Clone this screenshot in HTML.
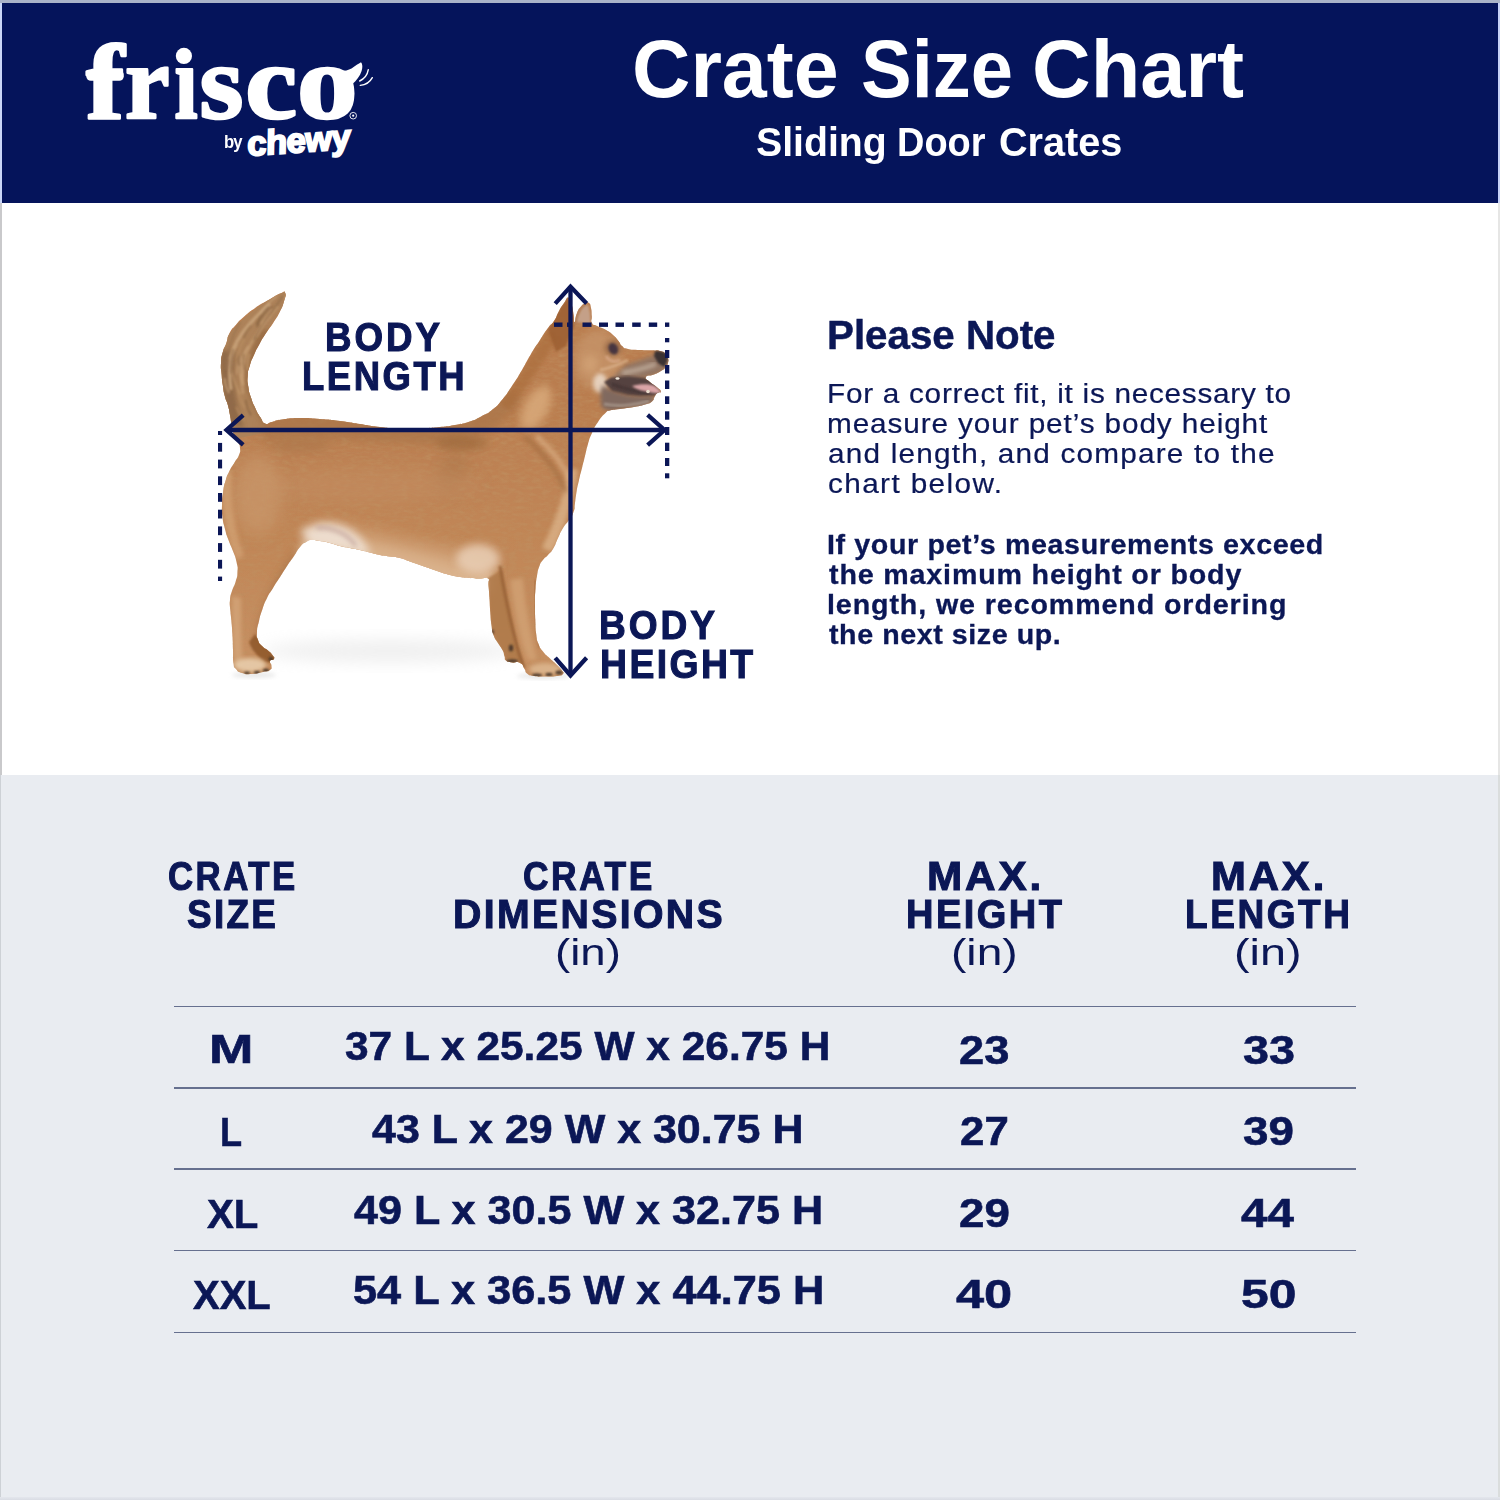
<!DOCTYPE html>
<html><head><meta charset="utf-8">
<title>Crate Size Chart</title>
<style>
html,body{margin:0;padding:0;}
body{width:1500px;height:1500px;position:relative;overflow:hidden;background:#fff;font-family:"Liberation Sans",sans-serif;color:#0b1756;}
#hdr{position:absolute;left:0;top:0;width:1500px;height:202.6px;background:#05145b;}
#tbl{position:absolute;left:0;top:775px;width:1500px;height:725px;background:#e9ecf1;}
.ln{position:absolute;left:174px;width:1182px;height:1.4px;background:#66708f;}
.t{position:absolute;white-space:nowrap;line-height:1;transform-origin:0 0;}
svg{position:absolute;left:0;top:0;}
</style></head>
<body>
<div id="hdr"></div>
<div id="tbl"></div>
<div class="ln" style="top:1005.6px"></div>
<div class="ln" style="top:1087.4px"></div>
<div class="ln" style="top:1168.4px"></div>
<div class="ln" style="top:1249.9px"></div>
<div class="ln" style="top:1331.6px"></div>
<svg width="1500" height="1500" viewBox="0 0 1500 1500" style="z-index:1">
<defs>
<linearGradient id="gBody" gradientUnits="userSpaceOnUse" x1="0" y1="400" x2="0" y2="640">
<stop offset="0" stop-color="#ba7d4f"/><stop offset="0.3" stop-color="#be8253"/><stop offset="0.7" stop-color="#c28859"/><stop offset="1" stop-color="#c68e60"/>
</linearGradient>
<filter id="b2" x="-20%" y="-20%" width="140%" height="140%"><feGaussianBlur stdDeviation="2"/></filter>
<filter id="b4" x="-30%" y="-30%" width="160%" height="160%"><feGaussianBlur stdDeviation="4"/></filter>
<filter id="b8" x="-50%" y="-50%" width="200%" height="200%"><feGaussianBlur stdDeviation="8"/></filter>
<filter id="b1" x="-20%" y="-20%" width="140%" height="140%"><feGaussianBlur stdDeviation="0.9"/></filter>
<filter id="fur" x="0" y="0" width="100%" height="100%"><feTurbulence type="fractalNoise" baseFrequency="0.12 0.3" numOctaves="3" seed="7" result="n"/><feColorMatrix in="n" type="matrix" values="0 0 0 0 0.52  0 0 0 0 0.28  0 0 0 0 0.12  1.3 1.3 0 0 -1.05"/></filter>
<filter id="edge" x="-5%" y="-5%" width="110%" height="110%"><feGaussianBlur stdDeviation="0.6"/></filter>
<clipPath id="cpDog"><path d="M285.1 292.8C286.4 295.4 285.8 294.9 284.0 301.3C282.2 307.7 283.3 304.9 279.7 312.0C276.1 319.1 277.9 315.6 273.3 322.7C268.7 329.8 270.5 326.2 265.9 333.3C261.3 340.4 263.4 336.9 259.5 344.0C255.6 351.1 257.3 347.6 254.1 354.7C250.9 361.8 252.0 358.2 249.9 365.3C247.8 372.4 248.2 368.9 247.7 376.0C247.2 383.1 247.2 379.6 248.3 386.7C249.4 393.8 248.6 390.2 250.9 397.3C253.2 404.4 252.0 401.2 255.2 408.0C258.4 414.8 257.2 412.4 260.5 417.6C263.8 422.8 261.2 422.0 265.0 423.5C268.8 425.0 266.3 423.3 272.0 422.0C277.7 420.7 272.7 420.8 282.0 419.5C291.3 418.2 287.3 418.2 300.0 418.0C312.7 417.8 306.7 418.0 320.0 419.0C333.3 420.0 326.7 419.3 340.0 421.0C353.3 422.7 346.7 422.0 360.0 424.0C373.3 426.0 366.7 425.5 380.0 427.0C393.3 428.5 386.7 428.0 400.0 428.5C413.3 429.0 406.7 429.0 420.0 428.5C433.3 428.0 428.3 428.2 440.0 427.0C451.7 425.8 445.0 426.8 455.0 425.0C465.0 423.2 461.0 424.5 470.0 421.5C479.0 418.5 474.7 419.8 482.0 416.0C489.3 412.2 485.3 415.3 492.0 410.0C498.7 404.7 495.3 408.0 502.0 400.0C508.7 392.0 505.3 396.0 512.0 386.0C518.7 376.0 515.7 380.7 522.0 370.0C528.3 359.3 525.0 364.0 531.0 354.0C537.0 344.0 534.3 348.7 540.0 340.0C545.7 331.3 543.3 334.3 548.0 328.0C552.7 321.7 550.3 326.7 554.0 321.0C557.7 315.3 555.7 317.0 559.0 311.0C562.3 305.0 560.8 307.5 564.0 303.0C567.2 298.5 566.0 297.2 568.5 297.5C571.0 297.8 569.8 298.5 571.5 304.0C573.2 309.5 572.5 308.0 573.5 314.0C574.5 320.0 573.3 322.3 574.5 322.0C575.7 321.7 574.8 318.2 577.0 313.0C579.2 307.8 578.2 309.7 581.0 306.5C583.8 303.3 582.8 304.7 585.5 303.5C588.2 302.3 587.2 301.5 589.0 303.0C590.8 304.5 590.1 303.7 591.0 308.0C591.9 312.3 591.5 311.0 591.8 316.0C592.1 321.0 590.3 319.7 592.0 323.0C593.7 326.3 592.3 323.7 597.0 326.0C601.7 328.3 600.7 327.0 606.0 330.0C611.3 333.0 608.8 331.3 613.0 335.0C617.2 338.7 615.5 337.3 618.5 341.0C621.5 344.7 618.8 343.3 622.0 346.0C625.2 348.7 622.0 347.7 628.0 349.0C634.0 350.3 632.0 349.6 640.0 350.0C648.0 350.4 645.3 350.0 652.0 350.3C658.7 350.6 655.5 349.9 660.0 351.0C664.5 352.1 662.8 351.2 665.5 353.5C668.2 355.8 667.2 354.8 668.0 358.0C668.8 361.2 668.8 359.8 668.0 363.0C667.2 366.2 667.8 364.8 665.5 367.5C663.2 370.2 664.8 368.7 661.0 371.0C657.2 373.3 659.0 372.5 654.0 374.5C649.0 376.5 647.3 374.5 646.0 377.0C644.7 379.5 646.7 378.8 650.0 382.0C653.3 385.2 652.3 383.3 656.0 386.5C659.7 389.7 660.5 389.3 661.0 391.5C661.5 393.7 659.7 391.2 657.5 393.0C655.3 394.8 656.3 394.2 654.5 397.0C652.7 399.8 655.2 399.0 652.0 401.5C648.8 404.0 651.0 402.7 645.0 404.5C639.0 406.3 642.3 405.5 634.0 407.0C625.7 408.5 628.0 407.8 620.0 409.0C612.0 410.2 614.8 409.2 610.0 410.5C605.2 411.8 609.5 409.2 605.5 413.0C601.5 416.8 602.5 415.3 598.0 422.0C593.5 428.7 595.3 425.7 592.0 433.0C588.7 440.3 590.3 436.3 588.0 444.0C585.7 451.7 587.0 448.0 585.0 456.0C583.0 464.0 584.0 460.0 582.0 468.0C580.0 476.0 580.8 472.0 579.0 480.0C577.2 488.0 577.8 484.3 576.5 492.0C575.2 499.7 576.0 496.3 575.0 503.0C574.0 509.7 575.5 506.3 573.5 512.0C571.5 517.7 572.5 514.7 569.0 520.0C565.5 525.3 566.7 522.0 563.0 528.0C559.3 534.0 561.2 531.3 558.0 538.0C554.8 544.7 556.8 542.3 553.5 548.0C550.2 553.7 551.5 551.0 548.0 555.0C544.5 559.0 545.8 556.3 543.0 560.0C540.2 563.7 541.5 560.7 539.5 566.0C537.5 571.3 538.4 568.0 537.0 576.0C535.6 584.0 536.1 580.3 535.4 590.0C534.7 599.7 535.0 595.0 535.0 605.0C535.0 615.0 534.9 610.3 535.3 620.0C535.7 629.7 535.1 626.0 536.2 634.0C537.3 642.0 536.2 638.2 538.5 644.0C540.8 649.8 539.2 646.7 543.0 651.5C546.8 656.3 545.3 654.0 550.0 658.5C554.7 663.0 553.0 661.0 557.0 665.0C561.0 669.0 560.0 667.5 562.0 670.5C564.0 673.5 564.7 672.2 563.0 674.0C561.3 675.8 563.0 675.2 557.0 676.0C551.0 676.8 552.7 676.5 545.0 676.5C537.3 676.5 540.0 677.0 534.0 676.0C528.0 675.0 530.2 675.8 527.0 673.5C523.8 671.2 526.8 672.5 524.5 669.0C522.2 665.5 524.2 665.2 520.0 663.0C515.8 660.8 516.7 663.3 512.0 662.5C507.3 661.7 508.5 662.7 506.0 660.5C503.5 658.3 505.7 659.5 504.5 656.0C503.3 652.5 504.7 654.3 502.5 650.0C500.3 645.7 501.0 648.0 498.0 643.0C495.0 638.0 495.7 641.0 493.5 635.0C491.3 629.0 492.6 632.7 491.5 625.0C490.4 617.3 491.0 621.0 490.3 612.0C489.6 603.0 490.1 607.0 489.5 598.0C488.9 589.0 489.0 591.5 488.5 585.0C488.0 578.5 490.8 580.7 488.0 578.5C485.2 576.3 486.0 578.7 480.0 578.5C474.0 578.3 476.7 578.5 470.0 578.0C463.3 577.5 466.7 578.0 460.0 577.0C453.3 576.0 456.7 576.7 450.0 575.0C443.3 573.3 446.7 574.2 440.0 572.0C433.3 569.8 436.7 570.8 430.0 568.5C423.3 566.2 426.7 567.3 420.0 565.0C413.3 562.7 416.7 563.8 410.0 561.5C403.3 559.2 406.7 559.7 400.0 558.0C393.3 556.3 396.7 557.5 390.0 556.5C383.3 555.5 386.7 556.3 380.0 555.0C373.3 553.7 376.7 554.2 370.0 552.5C363.3 550.8 366.7 551.5 360.0 550.0C353.3 548.5 356.7 549.3 350.0 548.0C343.3 546.7 346.7 547.7 340.0 546.0C333.3 544.3 336.7 544.7 330.0 543.0C323.3 541.3 326.0 542.0 320.0 541.0C314.0 540.0 316.7 539.7 312.0 540.0C307.3 540.3 310.0 539.7 306.0 542.0C302.0 544.3 304.0 542.3 300.0 547.0C296.0 551.7 298.3 549.7 294.0 556.0C289.7 562.3 291.7 559.0 287.0 566.0C282.3 573.0 284.7 569.7 280.0 577.0C275.3 584.3 277.3 581.0 273.0 588.0C268.7 595.0 270.5 591.0 267.0 598.0C263.5 605.0 265.2 601.3 262.5 609.0C259.8 616.7 260.8 613.3 259.0 621.0C257.2 628.7 257.3 625.7 257.0 632.0C256.7 638.3 256.3 635.3 258.0 640.0C259.7 644.7 258.7 642.5 262.0 646.0C265.3 649.5 264.5 647.5 268.0 650.5C271.5 653.5 270.5 652.2 272.5 655.0C274.5 657.8 274.8 657.0 274.0 659.0C273.2 661.0 270.8 658.7 270.0 661.0C269.2 663.3 271.5 663.0 271.5 666.0C271.5 669.0 272.8 668.0 270.0 670.0C267.2 672.0 269.0 670.7 263.0 672.0C257.0 673.3 259.0 673.7 252.0 674.0C245.0 674.3 247.3 674.7 242.0 673.0C236.7 671.3 238.8 672.3 236.0 669.0C233.2 665.7 234.5 669.3 233.5 663.0C232.5 656.7 233.3 659.0 233.0 650.0C232.7 641.0 233.0 645.3 232.5 636.0C232.0 626.7 232.2 630.7 231.5 622.0C230.8 613.3 230.8 617.3 230.3 610.0C229.8 602.7 229.4 606.3 230.0 600.0C230.6 593.7 230.2 597.0 232.0 591.0C233.8 585.0 233.7 588.3 235.5 582.0C237.3 575.7 237.2 578.7 237.5 572.0C237.8 565.3 238.0 569.0 236.5 562.0C235.0 555.0 235.7 558.3 233.0 551.0C230.3 543.7 231.2 547.3 228.5 540.0C225.8 532.7 227.0 536.7 225.0 529.0C223.0 521.3 223.5 525.0 222.5 517.0C221.5 509.0 221.8 513.0 222.0 505.0C222.2 497.0 221.8 501.0 223.0 493.0C224.2 485.0 223.3 488.3 225.5 481.0C227.7 473.7 226.5 477.2 229.5 471.0C232.5 464.8 231.3 467.8 234.5 462.5C237.7 457.2 237.2 459.8 239.0 455.0C240.8 450.2 240.3 452.3 240.0 448.0C239.7 443.7 240.3 447.3 238.0 442.0C235.7 436.7 235.2 438.0 233.0 432.0C230.8 426.0 232.5 429.7 231.5 424.0C230.5 418.3 231.2 421.2 230.0 415.0C228.8 408.8 229.7 411.8 228.0 405.5C226.3 399.2 226.5 402.8 224.8 396.0C223.1 389.2 223.9 392.3 222.8 385.0C221.7 377.7 222.2 381.3 221.6 374.0C221.0 366.7 220.6 370.2 221.0 363.0C221.4 355.8 220.9 359.2 222.7 352.5C224.5 345.8 224.1 349.4 226.4 343.0C228.7 336.6 226.3 339.4 229.5 333.3C232.7 327.2 231.0 330.5 236.0 324.8C241.0 319.1 238.0 322.0 244.5 316.3C251.0 310.6 247.7 313.0 255.5 307.7C263.3 302.4 259.8 305.0 268.0 300.3C276.2 295.6 274.3 296.1 280.0 293.6C285.7 291.1 283.8 290.2 285.1 292.8Z"/></clipPath>
</defs>
<ellipse cx="390" cy="651" rx="128" ry="11" fill="#d6d6d6" opacity="0.38" filter="url(#b8)"/>
<ellipse cx="543" cy="676" rx="26" ry="3" fill="#d8d8d8" opacity="0.6" filter="url(#b2)"/>
<ellipse cx="254" cy="675" rx="22" ry="3" fill="#d8d8d8" opacity="0.6" filter="url(#b2)"/>
<g filter="url(#edge)"><path d="M285.1 292.8C286.4 295.4 285.8 294.9 284.0 301.3C282.2 307.7 283.3 304.9 279.7 312.0C276.1 319.1 277.9 315.6 273.3 322.7C268.7 329.8 270.5 326.2 265.9 333.3C261.3 340.4 263.4 336.9 259.5 344.0C255.6 351.1 257.3 347.6 254.1 354.7C250.9 361.8 252.0 358.2 249.9 365.3C247.8 372.4 248.2 368.9 247.7 376.0C247.2 383.1 247.2 379.6 248.3 386.7C249.4 393.8 248.6 390.2 250.9 397.3C253.2 404.4 252.0 401.2 255.2 408.0C258.4 414.8 257.2 412.4 260.5 417.6C263.8 422.8 261.2 422.0 265.0 423.5C268.8 425.0 266.3 423.3 272.0 422.0C277.7 420.7 272.7 420.8 282.0 419.5C291.3 418.2 287.3 418.2 300.0 418.0C312.7 417.8 306.7 418.0 320.0 419.0C333.3 420.0 326.7 419.3 340.0 421.0C353.3 422.7 346.7 422.0 360.0 424.0C373.3 426.0 366.7 425.5 380.0 427.0C393.3 428.5 386.7 428.0 400.0 428.5C413.3 429.0 406.7 429.0 420.0 428.5C433.3 428.0 428.3 428.2 440.0 427.0C451.7 425.8 445.0 426.8 455.0 425.0C465.0 423.2 461.0 424.5 470.0 421.5C479.0 418.5 474.7 419.8 482.0 416.0C489.3 412.2 485.3 415.3 492.0 410.0C498.7 404.7 495.3 408.0 502.0 400.0C508.7 392.0 505.3 396.0 512.0 386.0C518.7 376.0 515.7 380.7 522.0 370.0C528.3 359.3 525.0 364.0 531.0 354.0C537.0 344.0 534.3 348.7 540.0 340.0C545.7 331.3 543.3 334.3 548.0 328.0C552.7 321.7 550.3 326.7 554.0 321.0C557.7 315.3 555.7 317.0 559.0 311.0C562.3 305.0 560.8 307.5 564.0 303.0C567.2 298.5 566.0 297.2 568.5 297.5C571.0 297.8 569.8 298.5 571.5 304.0C573.2 309.5 572.5 308.0 573.5 314.0C574.5 320.0 573.3 322.3 574.5 322.0C575.7 321.7 574.8 318.2 577.0 313.0C579.2 307.8 578.2 309.7 581.0 306.5C583.8 303.3 582.8 304.7 585.5 303.5C588.2 302.3 587.2 301.5 589.0 303.0C590.8 304.5 590.1 303.7 591.0 308.0C591.9 312.3 591.5 311.0 591.8 316.0C592.1 321.0 590.3 319.7 592.0 323.0C593.7 326.3 592.3 323.7 597.0 326.0C601.7 328.3 600.7 327.0 606.0 330.0C611.3 333.0 608.8 331.3 613.0 335.0C617.2 338.7 615.5 337.3 618.5 341.0C621.5 344.7 618.8 343.3 622.0 346.0C625.2 348.7 622.0 347.7 628.0 349.0C634.0 350.3 632.0 349.6 640.0 350.0C648.0 350.4 645.3 350.0 652.0 350.3C658.7 350.6 655.5 349.9 660.0 351.0C664.5 352.1 662.8 351.2 665.5 353.5C668.2 355.8 667.2 354.8 668.0 358.0C668.8 361.2 668.8 359.8 668.0 363.0C667.2 366.2 667.8 364.8 665.5 367.5C663.2 370.2 664.8 368.7 661.0 371.0C657.2 373.3 659.0 372.5 654.0 374.5C649.0 376.5 647.3 374.5 646.0 377.0C644.7 379.5 646.7 378.8 650.0 382.0C653.3 385.2 652.3 383.3 656.0 386.5C659.7 389.7 660.5 389.3 661.0 391.5C661.5 393.7 659.7 391.2 657.5 393.0C655.3 394.8 656.3 394.2 654.5 397.0C652.7 399.8 655.2 399.0 652.0 401.5C648.8 404.0 651.0 402.7 645.0 404.5C639.0 406.3 642.3 405.5 634.0 407.0C625.7 408.5 628.0 407.8 620.0 409.0C612.0 410.2 614.8 409.2 610.0 410.5C605.2 411.8 609.5 409.2 605.5 413.0C601.5 416.8 602.5 415.3 598.0 422.0C593.5 428.7 595.3 425.7 592.0 433.0C588.7 440.3 590.3 436.3 588.0 444.0C585.7 451.7 587.0 448.0 585.0 456.0C583.0 464.0 584.0 460.0 582.0 468.0C580.0 476.0 580.8 472.0 579.0 480.0C577.2 488.0 577.8 484.3 576.5 492.0C575.2 499.7 576.0 496.3 575.0 503.0C574.0 509.7 575.5 506.3 573.5 512.0C571.5 517.7 572.5 514.7 569.0 520.0C565.5 525.3 566.7 522.0 563.0 528.0C559.3 534.0 561.2 531.3 558.0 538.0C554.8 544.7 556.8 542.3 553.5 548.0C550.2 553.7 551.5 551.0 548.0 555.0C544.5 559.0 545.8 556.3 543.0 560.0C540.2 563.7 541.5 560.7 539.5 566.0C537.5 571.3 538.4 568.0 537.0 576.0C535.6 584.0 536.1 580.3 535.4 590.0C534.7 599.7 535.0 595.0 535.0 605.0C535.0 615.0 534.9 610.3 535.3 620.0C535.7 629.7 535.1 626.0 536.2 634.0C537.3 642.0 536.2 638.2 538.5 644.0C540.8 649.8 539.2 646.7 543.0 651.5C546.8 656.3 545.3 654.0 550.0 658.5C554.7 663.0 553.0 661.0 557.0 665.0C561.0 669.0 560.0 667.5 562.0 670.5C564.0 673.5 564.7 672.2 563.0 674.0C561.3 675.8 563.0 675.2 557.0 676.0C551.0 676.8 552.7 676.5 545.0 676.5C537.3 676.5 540.0 677.0 534.0 676.0C528.0 675.0 530.2 675.8 527.0 673.5C523.8 671.2 526.8 672.5 524.5 669.0C522.2 665.5 524.2 665.2 520.0 663.0C515.8 660.8 516.7 663.3 512.0 662.5C507.3 661.7 508.5 662.7 506.0 660.5C503.5 658.3 505.7 659.5 504.5 656.0C503.3 652.5 504.7 654.3 502.5 650.0C500.3 645.7 501.0 648.0 498.0 643.0C495.0 638.0 495.7 641.0 493.5 635.0C491.3 629.0 492.6 632.7 491.5 625.0C490.4 617.3 491.0 621.0 490.3 612.0C489.6 603.0 490.1 607.0 489.5 598.0C488.9 589.0 489.0 591.5 488.5 585.0C488.0 578.5 490.8 580.7 488.0 578.5C485.2 576.3 486.0 578.7 480.0 578.5C474.0 578.3 476.7 578.5 470.0 578.0C463.3 577.5 466.7 578.0 460.0 577.0C453.3 576.0 456.7 576.7 450.0 575.0C443.3 573.3 446.7 574.2 440.0 572.0C433.3 569.8 436.7 570.8 430.0 568.5C423.3 566.2 426.7 567.3 420.0 565.0C413.3 562.7 416.7 563.8 410.0 561.5C403.3 559.2 406.7 559.7 400.0 558.0C393.3 556.3 396.7 557.5 390.0 556.5C383.3 555.5 386.7 556.3 380.0 555.0C373.3 553.7 376.7 554.2 370.0 552.5C363.3 550.8 366.7 551.5 360.0 550.0C353.3 548.5 356.7 549.3 350.0 548.0C343.3 546.7 346.7 547.7 340.0 546.0C333.3 544.3 336.7 544.7 330.0 543.0C323.3 541.3 326.0 542.0 320.0 541.0C314.0 540.0 316.7 539.7 312.0 540.0C307.3 540.3 310.0 539.7 306.0 542.0C302.0 544.3 304.0 542.3 300.0 547.0C296.0 551.7 298.3 549.7 294.0 556.0C289.7 562.3 291.7 559.0 287.0 566.0C282.3 573.0 284.7 569.7 280.0 577.0C275.3 584.3 277.3 581.0 273.0 588.0C268.7 595.0 270.5 591.0 267.0 598.0C263.5 605.0 265.2 601.3 262.5 609.0C259.8 616.7 260.8 613.3 259.0 621.0C257.2 628.7 257.3 625.7 257.0 632.0C256.7 638.3 256.3 635.3 258.0 640.0C259.7 644.7 258.7 642.5 262.0 646.0C265.3 649.5 264.5 647.5 268.0 650.5C271.5 653.5 270.5 652.2 272.5 655.0C274.5 657.8 274.8 657.0 274.0 659.0C273.2 661.0 270.8 658.7 270.0 661.0C269.2 663.3 271.5 663.0 271.5 666.0C271.5 669.0 272.8 668.0 270.0 670.0C267.2 672.0 269.0 670.7 263.0 672.0C257.0 673.3 259.0 673.7 252.0 674.0C245.0 674.3 247.3 674.7 242.0 673.0C236.7 671.3 238.8 672.3 236.0 669.0C233.2 665.7 234.5 669.3 233.5 663.0C232.5 656.7 233.3 659.0 233.0 650.0C232.7 641.0 233.0 645.3 232.5 636.0C232.0 626.7 232.2 630.7 231.5 622.0C230.8 613.3 230.8 617.3 230.3 610.0C229.8 602.7 229.4 606.3 230.0 600.0C230.6 593.7 230.2 597.0 232.0 591.0C233.8 585.0 233.7 588.3 235.5 582.0C237.3 575.7 237.2 578.7 237.5 572.0C237.8 565.3 238.0 569.0 236.5 562.0C235.0 555.0 235.7 558.3 233.0 551.0C230.3 543.7 231.2 547.3 228.5 540.0C225.8 532.7 227.0 536.7 225.0 529.0C223.0 521.3 223.5 525.0 222.5 517.0C221.5 509.0 221.8 513.0 222.0 505.0C222.2 497.0 221.8 501.0 223.0 493.0C224.2 485.0 223.3 488.3 225.5 481.0C227.7 473.7 226.5 477.2 229.5 471.0C232.5 464.8 231.3 467.8 234.5 462.5C237.7 457.2 237.2 459.8 239.0 455.0C240.8 450.2 240.3 452.3 240.0 448.0C239.7 443.7 240.3 447.3 238.0 442.0C235.7 436.7 235.2 438.0 233.0 432.0C230.8 426.0 232.5 429.7 231.5 424.0C230.5 418.3 231.2 421.2 230.0 415.0C228.8 408.8 229.7 411.8 228.0 405.5C226.3 399.2 226.5 402.8 224.8 396.0C223.1 389.2 223.9 392.3 222.8 385.0C221.7 377.7 222.2 381.3 221.6 374.0C221.0 366.7 220.6 370.2 221.0 363.0C221.4 355.8 220.9 359.2 222.7 352.5C224.5 345.8 224.1 349.4 226.4 343.0C228.7 336.6 226.3 339.4 229.5 333.3C232.7 327.2 231.0 330.5 236.0 324.8C241.0 319.1 238.0 322.0 244.5 316.3C251.0 310.6 247.7 313.0 255.5 307.7C263.3 302.4 259.8 305.0 268.0 300.3C276.2 295.6 274.3 296.1 280.0 293.6C285.7 291.1 283.8 290.2 285.1 292.8Z" fill="url(#gBody)"/></g>
<g clip-path="url(#cpDog)">
<rect x="215" y="285" width="460" height="400" filter="url(#fur)" opacity="0.7"/>
<!-- tail -->
<g>
<path d="M286 291C268 298 236 320 224 342C214 362 218 392 226 420L228 440L270 432C262 418 250 400 248 380C247 360 262 338 276 318C282 308 287 300 286 291Z" fill="#ad8259"/>
<path d="M221 350C219 372 223 398 230 424L244 428C236 404 231 380 235 352Z" fill="#8d6846" filter="url(#b2)" opacity="0.9"/>
<path d="M262 330C252 346 244 364 246 384C248 398 256 412 264 424L272 420C262 406 255 392 254 378C254 362 262 346 272 330Z" fill="#94683f" filter="url(#b2)" opacity="0.75"/>
<path d="M270 304C256 316 240 332 233 350C229 362 229 376 231 390" stroke="#c9a47c" stroke-width="3.5" fill="none" filter="url(#b1)" opacity="0.85"/>
<path d="M278 306C266 320 252 338 245 356C241 368 241 380 243 394" stroke="#bf966c" stroke-width="3" fill="none" filter="url(#b1)" opacity="0.85"/>
<path d="M283 296C276 306 262 324 254 340" stroke="#8e6a48" stroke-width="2" fill="none" filter="url(#b1)" opacity="0.7"/>
<path d="M240 322C232 336 226 352 226 370" stroke="#9a7450" stroke-width="2" fill="none" filter="url(#b1)" opacity="0.7"/>
<g filter="url(#b1)"><path d="M260.6 323.9Q264.5 315.2 271.5 308.9" stroke="#c9a277" stroke-width="1.7" fill="none" opacity="0.75"/><path d="M244.5 407.8Q239.3 399.4 237.8 389.5" stroke="#b88d62" stroke-width="2.0" fill="none" opacity="0.75"/><path d="M239.2 353.1Q240.2 344.6 244.9 337.7" stroke="#b88d62" stroke-width="1.5" fill="none" opacity="0.75"/><path d="M277.2 294.1Q279.6 287.6 285.1 283.5" stroke="#c9a277" stroke-width="2.0" fill="none" opacity="0.75"/><path d="M256.6 327.2Q263.0 315.5 272.5 306.3" stroke="#84603f" stroke-width="1.5" fill="none" opacity="0.75"/><path d="M240.3 394.3Q233.9 382.3 231.3 369.3" stroke="#c39a6e" stroke-width="1.6" fill="none" opacity="0.75"/><path d="M256.3 324.6Q261.0 314.3 268.9 306.4" stroke="#84603f" stroke-width="1.7" fill="none" opacity="0.75"/><path d="M241.0 362.6Q243.1 353.6 248.7 346.2" stroke="#c9a277" stroke-width="2.0" fill="none" opacity="0.75"/><path d="M244.6 420.1Q238.6 414.2 236.2 406.7" stroke="#b88d62" stroke-width="1.7" fill="none" opacity="0.75"/><path d="M242.9 384.4Q241.4 372.3 243.8 360.5" stroke="#c9a277" stroke-width="1.6" fill="none" opacity="0.75"/><path d="M236.9 374.5Q236.7 365.3 240.5 356.3" stroke="#c9a277" stroke-width="1.4" fill="none" opacity="0.75"/><path d="M229.2 393.0Q225.0 386.2 224.7 378.2" stroke="#d0ab82" stroke-width="1.7" fill="none" opacity="0.75"/><path d="M228.8 359.7Q231.2 351.5 237.3 345.0" stroke="#c9a277" stroke-width="1.1" fill="none" opacity="0.75"/><path d="M248.0 370.2Q246.8 361.9 249.5 353.9" stroke="#c39a6e" stroke-width="1.8" fill="none" opacity="0.75"/><path d="M251.3 415.5Q246.7 408.4 245.8 399.6" stroke="#84603f" stroke-width="1.6" fill="none" opacity="0.75"/><path d="M236.6 358.5Q238.9 347.9 244.9 338.9" stroke="#b88d62" stroke-width="1.3" fill="none" opacity="0.75"/><path d="M231.4 373.7Q230.3 361.0 233.2 348.6" stroke="#8f6a47" stroke-width="1.7" fill="none" opacity="0.75"/><path d="M284.3 299.2Q290.5 289.6 299.8 282.5" stroke="#d0ab82" stroke-width="1.2" fill="none" opacity="0.75"/><path d="M240.6 374.1Q237.8 364.9 239.1 355.8" stroke="#8f6a47" stroke-width="1.9" fill="none" opacity="0.75"/><path d="M289.9 305.8Q294.3 296.4 301.7 289.5" stroke="#84603f" stroke-width="1.4" fill="none" opacity="0.75"/><path d="M244.5 370.3Q242.2 362.0 243.9 353.9" stroke="#8f6a47" stroke-width="1.4" fill="none" opacity="0.75"/><path d="M243.7 338.4Q245.9 331.0 251.3 325.7" stroke="#8f6a47" stroke-width="1.6" fill="none" opacity="0.75"/><path d="M241.9 376.7Q239.9 367.6 241.9 358.8" stroke="#c9a277" stroke-width="1.1" fill="none" opacity="0.75"/><path d="M257.1 337.3Q262.3 325.6 270.7 316.2" stroke="#c39a6e" stroke-width="1.1" fill="none" opacity="0.75"/><path d="M243.5 385.4Q239.4 376.1 239.2 365.8" stroke="#c9a277" stroke-width="1.6" fill="none" opacity="0.75"/><path d="M260.3 314.1Q266.8 303.8 276.6 296.0" stroke="#d0ab82" stroke-width="1.1" fill="none" opacity="0.75"/></g>
</g>
<!-- top of back darker band -->
<path d="M262 418C300 410 360 416 420 424C460 424 490 414 510 388L520 400C500 432 470 446 420 444C360 440 300 436 262 440Z" fill="#a9744a" filter="url(#b4)" opacity="0.7"/>
<!-- shoulder dark patches -->
<ellipse cx="462" cy="443" rx="26" ry="7" fill="#9e6b3d" filter="url(#b4)" opacity="0.75"/>
<ellipse cx="452" cy="472" rx="12" ry="22" fill="#a9744a" filter="url(#b8)" opacity="0.5" transform="rotate(25 452 472)"/>
<ellipse cx="300" cy="445" rx="30" ry="8" fill="#a9744a" filter="url(#b4)" opacity="0.5"/>
<!-- mid-body light band -->
<ellipse cx="370" cy="485" rx="110" ry="18" fill="#c48f64" filter="url(#b8)" opacity="0.45"/>
<!-- rump highlight -->
<ellipse cx="258" cy="495" rx="24" ry="40" fill="#c9986c" filter="url(#b8)" opacity="0.7"/>
<!-- rump left edge lighter -->
<path d="M222 470C220 500 224 530 236 560L244 556C234 528 230 500 232 472Z" fill="#d7a97c" filter="url(#b2)" opacity="0.6"/>
<!-- belly edge lighter -->
<path d="M300 544C330 534 380 546 420 556C450 564 470 570 492 572L492 592L300 592Z" fill="#e6c9aa" filter="url(#b4)" opacity="0.95"/>
<path d="M320 522C370 532 420 544 490 558L490 590L320 560Z" fill="#d6aa82" filter="url(#b8)" opacity="0.8"/>
<!-- groin cream -->
<path d="M300 532C314 520 338 520 354 532C364 540 370 550 370 556L340 550L310 546Z" fill="#efe0d2" filter="url(#b4)" opacity="0.95"/>
<path d="M316 528C332 526 348 534 356 546" stroke="#c2a39a" stroke-width="4" fill="none" filter="url(#b2)" opacity="0.75"/>
<!-- chest cream (behind front leg) -->
<ellipse cx="478" cy="559" rx="22" ry="15" fill="#e9cfb6" filter="url(#b4)" opacity="0.85"/>
<!-- chest front lighter edge -->
<path d="M578 470C574 500 566 525 552 552L542 548C556 520 564 496 568 468Z" fill="#dfb88f" filter="url(#b2)" opacity="0.7"/>
<!-- neck light patch -->
<ellipse cx="536" cy="408" rx="12" ry="24" fill="#d9aa7c" filter="url(#b4)" opacity="0.85" transform="rotate(28 536 408)"/>
<!-- neck fold dark line + light -->
<path d="M524 436C540 450 556 468 566 492" stroke="#a06c40" stroke-width="4" fill="none" filter="url(#b2)" opacity="0.7"/>
<path d="M536 436C550 448 562 462 570 480" stroke="#dcb187" stroke-width="5" fill="none" filter="url(#b2)" opacity="0.7"/>
<!-- back of neck darker -->
<path d="M548 328C536 348 520 376 500 404L510 410C528 384 546 358 558 338Z" fill="#a86c3a" filter="url(#b2)" opacity="0.6"/>
<!-- rear leg shading -->
<path d="M300 546C286 566 270 590 260 622L258 640L270 652L282 600Z" fill="#9e683c" filter="url(#b4)" opacity="0.7"/>
<path d="M232 596C232 620 233 645 234 664L243 664C241 640 241 620 241 598Z" fill="#d4a67a" filter="url(#b2)" opacity="0.8"/>
<path d="M255 634C262 642 270 649 274.5 657C275 661.5 271 663.5 265 662C258 657 251 649 249 642Z" fill="#935c2f" filter="url(#b1)" opacity="0.95"/>
<!-- rear paw light toes -->
<ellipse cx="250" cy="665" rx="16" ry="7" fill="#e6caa8" filter="url(#b2)" opacity="0.95"/>
<!-- front legs: far leg darker -->
<path d="M488 578C489 600 490 620 492 632C496 642 504 652 506 660L524 664L516 640L508 600L502 570Z" fill="#b07a4c" opacity="0.9" filter="url(#b1)"/>
<path d="M500 566C504 590 510 620 516 642C518 652 522 662 524 668" stroke="#955f34" stroke-width="3" fill="none" filter="url(#b1)" opacity="0.8"/>
<!-- near front leg highlight -->
<path d="M510 580C514 610 520 640 528 660L537 660C531 636 525 606 523 578Z" fill="#d2a274" filter="url(#b2)" opacity="0.8"/>
<path d="M535 580C535 606 537 632 540 648" stroke="#a97040" stroke-width="3" fill="none" filter="url(#b1)" opacity="0.7"/>
<!-- front paw light -->
<ellipse cx="545" cy="669" rx="16" ry="6" fill="#dcb68e" filter="url(#b2)" opacity="0.9"/>
<!-- claws / paw undersides -->
<g fill="#3f3028" filter="url(#b1)" opacity="0.85">
<ellipse cx="266" cy="670.5" rx="3" ry="2"/><ellipse cx="257" cy="672.5" rx="3" ry="1.8"/><ellipse cx="247" cy="673" rx="3" ry="1.6"/>
<ellipse cx="271" cy="659" rx="2.5" ry="2"/>
<ellipse cx="559" cy="672.5" rx="3.5" ry="2"/><ellipse cx="549" cy="674.5" rx="3.5" ry="1.8"/><ellipse cx="537" cy="675.2" rx="5" ry="1.6"/>
<ellipse cx="512" cy="661" rx="6" ry="1.8"/><ellipse cx="511" cy="648" rx="2.2" ry="3.5"/><ellipse cx="492" cy="632" rx="1.8" ry="2.5"/>
</g>
<!-- HEAD -->
<!-- head base slightly lighter -->
<ellipse cx="598" cy="360" rx="24" ry="30" fill="#c6946a" filter="url(#b4)" opacity="0.8"/>
<!-- back ear darker -->
<path d="M548 330C554 318 562 304 568.5 297L573 310L574 326L566 346L556 352Z" fill="#9c5f33" filter="url(#b1)" opacity="0.85"/>
<!-- front ear inner -->
<path d="M576 322C578 312 582 306 587 304.5C590 308 590.5 316 590.5 324Z" fill="#c4a088" filter="url(#b1)"/>
<path d="M575 324C577 313 581 306 586 303.5" stroke="#b07e58" stroke-width="2" fill="none" filter="url(#b1)"/>
<!-- brow / eye socket -->
<ellipse cx="613" cy="348" rx="9" ry="8.5" fill="#9a6a46" filter="url(#b2)" opacity="0.8"/>
<ellipse cx="613.3" cy="348.8" rx="4.6" ry="6" transform="rotate(-25 613.3 348.8)" fill="#473640" filter="url(#b1)"/>
<path d="M606 356C609 361 614 363 620 360" stroke="#d7a887" stroke-width="3" fill="none" filter="url(#b1)" opacity="0.8"/>
<!-- cheek light -->
<ellipse cx="600" cy="383" rx="7" ry="10" fill="#ead8c6" filter="url(#b2)" opacity="0.9"/>
<ellipse cx="590" cy="364" rx="8" ry="10" fill="#d6a77a" filter="url(#b4)" opacity="0.7"/>
<path d="M600 370C610 368 620 364 628 360" stroke="#d9b08a" stroke-width="3" fill="none" filter="url(#b1)" opacity="0.8"/>
<!-- muzzle upper (greyish) -->
<path d="M626 365C638 361 650 357 660 353L668 356L668 364L660 373L646 377.5L626 380L612 378Z" fill="#8a7366" filter="url(#b2)" opacity="0.85"/>
<path d="M622 373C634 371 646 368 656 364" stroke="#cdbcab" stroke-width="4" fill="none" filter="url(#b2)" opacity="0.85"/>
<!-- nose -->
<path d="M655 351C660 350.5 665 351.5 667.5 355C668.5 359 667 363 664 367L658 363L654 356Z" fill="#3b3233" filter="url(#b1)"/>
<!-- lower jaw -->
<path d="M602 385C606 388 612 391 628 395L640 396L655 395.5L653 402L644 406L624 408.5L610 411L602 408C600 400 600 392 602 385Z" fill="#80695f" filter="url(#b2)"/>
<path d="M604 404C618 407 636 405 649 401" stroke="#a8988c" stroke-width="3" fill="none" filter="url(#b1)" opacity="0.8"/>
<!-- mouth interior -->
<path d="M604 382L611 377.5L628 376.2L646 378L654 383L660.5 392.5L654.5 395.5L640 396L628 395L612 391Z" fill="#544241" filter="url(#b1)"/>
<path d="M612 384C622 388 636 392 650 393" stroke="#3f3030" stroke-width="2.5" fill="none" filter="url(#b1)" opacity="0.7"/>
<!-- tongue -->
<path d="M632 386C640 383.5 650 383.5 654.5 386C658 388.5 660.5 391 661 393C656 393.8 650 392.5 644 391C639 390 635 388.5 632 386Z" fill="#dba5a7" filter="url(#b1)"/>
<!-- teeth -->
<ellipse cx="617.5" cy="378.5" rx="2" ry="1.3" fill="#efe6da"/>
<ellipse cx="648" cy="391.5" rx="1.8" ry="1.8" fill="#eadccc"/>


</g>
</svg>
<svg width="1500" height="1500" viewBox="0 0 1500 1500" style="z-index:3">
<g stroke="#0b1656" stroke-width="4.3" fill="none" stroke-linejoin="miter" stroke-linecap="butt">
<path d="M227 430H664"/>
<path d="M243.2 415.2L226.5 430L243.2 444.8"/>
<path d="M647.6 414.9L664.5 430L647.6 445.1"/>
<path d="M570.5 287V675"/>
<path d="M555.2 303.6L570.5 286.6L586.6 303.6"/>
<path d="M555.2 657.8L570.5 675.4L586.6 657.8"/>
</g>
<g fill="#0b1656">
<rect x="554" y="322.5" width="8.5" height="4.4"/>
<rect x="567" y="322.5" width="4.0" height="4.4"/>
<rect x="582.5" y="322.5" width="9.0" height="4.4"/>
<rect x="599" y="322.5" width="9.0" height="4.4"/>
<rect x="615.5" y="322.5" width="8.5" height="4.4"/>
<rect x="632.2" y="322.5" width="8.5" height="4.4"/>
<rect x="648.8" y="322.5" width="8.4" height="4.4"/>
<rect x="665" y="322.5" width="4.3" height="4.4"/>
<rect x="665" y="338" width="4.3" height="4.3"/>
<rect x="665" y="350" width="4.3" height="8.0"/>
<rect x="665" y="365" width="4.3" height="8.5"/>
<rect x="665" y="380.5" width="4.3" height="8.5"/>
<rect x="665" y="396.3" width="4.3" height="7.7"/>
<rect x="665" y="411.3" width="4.3" height="8.4"/>
<rect x="665" y="427" width="4.3" height="8.0"/>
<rect x="665" y="442.7" width="4.3" height="8.3"/>
<rect x="665" y="458" width="4.3" height="8.0"/>
<rect x="665" y="473.3" width="4.3" height="5.0"/>
<rect x="218" y="431.0" width="4.1" height="4.0"/>
<rect x="218" y="442.9" width="4.1" height="8.8"/>
<rect x="218" y="459.6" width="4.1" height="8.8"/>
<rect x="218" y="476.3" width="4.1" height="8.8"/>
<rect x="218" y="493.0" width="4.1" height="8.8"/>
<rect x="218" y="509.7" width="4.1" height="8.8"/>
<rect x="218" y="526.4" width="4.1" height="8.8"/>
<rect x="218" y="543.1" width="4.1" height="8.8"/>
<rect x="218" y="559.8" width="4.1" height="8.8"/>
<rect x="218" y="576.6" width="4.1" height="4.4"/>
</g></svg>
<div class="t" id="t1a" style="left:632.41px;top:28.80px;font-size:81px;font-weight:bold;letter-spacing:0.000px;color:#ffffff;font-family:'Liberation Sans',sans-serif;transform:scaleX(0.9980);">Crate</div>
<div class="t" id="t1b" style="left:860.89px;top:28.80px;font-size:81px;font-weight:bold;letter-spacing:0.000px;color:#ffffff;font-family:'Liberation Sans',sans-serif;transform:scaleX(0.9372);">Size</div>
<div class="t" id="t1c" style="left:1032.49px;top:28.80px;font-size:81px;font-weight:bold;letter-spacing:0.000px;color:#ffffff;font-family:'Liberation Sans',sans-serif;transform:scaleX(1.0024);">Chart</div>
<div class="t" id="t2a" style="left:755.52px;top:122.00px;font-size:40px;font-weight:bold;letter-spacing:0.000px;color:#ffffff;font-family:'Liberation Sans',sans-serif;transform:scaleX(0.9808);">Sliding</div>
<div class="t" id="t2b" style="left:897.16px;top:122.00px;font-size:40px;font-weight:bold;letter-spacing:0.000px;color:#ffffff;font-family:'Liberation Sans',sans-serif;transform:scaleX(0.9478);">Door</div>
<div class="t" id="t2c" style="left:999.32px;top:122.00px;font-size:40px;font-weight:bold;letter-spacing:0.000px;color:#ffffff;font-family:'Liberation Sans',sans-serif;transform:scaleX(0.9909);">Crates</div>
<div class="t" id="bl1" style="left:325.31px;top:317.00px;font-size:41px;font-weight:bold;letter-spacing:3.304px;color:#0b1756;font-family:'Liberation Sans',sans-serif;transform:scaleX(0.8958);-webkit-text-stroke:1.1px #0b1756;">BODY</div>
<div class="t" id="bl2" style="left:301.73px;top:356.00px;font-size:41px;font-weight:bold;letter-spacing:2.835px;color:#0b1756;font-family:'Liberation Sans',sans-serif;transform:scaleX(0.8895);-webkit-text-stroke:1.1px #0b1756;">LENGTH</div>
<div class="t" id="bh1" style="left:599.29px;top:605.00px;font-size:41px;font-weight:bold;letter-spacing:3.304px;color:#0b1756;font-family:'Liberation Sans',sans-serif;transform:scaleX(0.9039);-webkit-text-stroke:1.1px #0b1756;">BODY</div>
<div class="t" id="bh2" style="left:599.67px;top:644.00px;font-size:41px;font-weight:bold;letter-spacing:2.626px;color:#0b1756;font-family:'Liberation Sans',sans-serif;transform:scaleX(0.9115);-webkit-text-stroke:1.1px #0b1756;">HEIGHT</div>
<div class="t" id="n1" style="left:826.69px;top:313.70px;font-size:41.5px;font-weight:bold;letter-spacing:0.000px;color:#0b1756;font-family:'Liberation Sans',sans-serif;transform:scaleX(0.9710);-webkit-text-stroke:0.5px #0b1756;">Please Note</div>
<div class="t" id="p1" style="left:826.82px;top:380.20px;font-size:27.3px;font-weight:normal;letter-spacing:0.660px;color:#0b1756;font-family:'Liberation Sans',sans-serif;transform:scaleX(1.0900);-webkit-text-stroke:0.2px #0b1756;">For a correct fit, it is necessary to</div>
<div class="t" id="p2" style="left:826.82px;top:410.10px;font-size:27.3px;font-weight:normal;letter-spacing:0.812px;color:#0b1756;font-family:'Liberation Sans',sans-serif;transform:scaleX(1.0900);-webkit-text-stroke:0.2px #0b1756;">measure your pet’s body height</div>
<div class="t" id="p3" style="left:827.91px;top:439.80px;font-size:27.3px;font-weight:normal;letter-spacing:1.093px;color:#0b1756;font-family:'Liberation Sans',sans-serif;transform:scaleX(1.0900);-webkit-text-stroke:0.2px #0b1756;">and length, and compare to the</div>
<div class="t" id="p4" style="left:827.91px;top:470.20px;font-size:27.3px;font-weight:normal;letter-spacing:1.261px;color:#0b1756;font-family:'Liberation Sans',sans-serif;transform:scaleX(1.0900);-webkit-text-stroke:0.2px #0b1756;">chart below.</div>
<div class="t" id="q1" style="left:826.88px;top:532.20px;font-size:27px;font-weight:bold;letter-spacing:0.594px;color:#0b1756;font-family:'Liberation Sans',sans-serif;transform:scaleX(1.0600);-webkit-text-stroke:0.3px #0b1756;">If your pet’s measurements exceed</div>
<div class="t" id="q2" style="left:829.00px;top:562.00px;font-size:27px;font-weight:bold;letter-spacing:0.798px;color:#0b1756;font-family:'Liberation Sans',sans-serif;transform:scaleX(1.0600);-webkit-text-stroke:0.3px #0b1756;">the maximum height or body</div>
<div class="t" id="q3" style="left:826.88px;top:591.90px;font-size:27px;font-weight:bold;letter-spacing:0.850px;color:#0b1756;font-family:'Liberation Sans',sans-serif;transform:scaleX(1.0600);-webkit-text-stroke:0.3px #0b1756;">length, we recommend ordering</div>
<div class="t" id="q4" style="left:829.00px;top:622.10px;font-size:27px;font-weight:bold;letter-spacing:0.538px;color:#0b1756;font-family:'Liberation Sans',sans-serif;transform:scaleX(1.0600);-webkit-text-stroke:0.3px #0b1756;">the next size up.</div>
<div class="t" id="h1a" style="left:168.32px;top:855.00px;font-size:41.5px;font-weight:bold;letter-spacing:2.957px;color:#0b1756;font-family:'Liberation Sans',sans-serif;transform:scaleX(0.8388);-webkit-text-stroke:1.1px #0b1756;">CRATE</div>
<div class="t" id="h1b" style="left:187.22px;top:892.50px;font-size:41.5px;font-weight:bold;letter-spacing:2.580px;color:#0b1756;font-family:'Liberation Sans',sans-serif;transform:scaleX(0.8890);-webkit-text-stroke:1.1px #0b1756;">SIZE</div>
<div class="t" id="h2a" style="left:523.30px;top:855.00px;font-size:41.5px;font-weight:bold;letter-spacing:2.957px;color:#0b1756;font-family:'Liberation Sans',sans-serif;transform:scaleX(0.8524);-webkit-text-stroke:1.1px #0b1756;">CRATE</div>
<div class="t" id="h2b" style="left:453.17px;top:892.50px;font-size:41.5px;font-weight:bold;letter-spacing:2.493px;color:#0b1756;font-family:'Liberation Sans',sans-serif;transform:scaleX(0.9450);-webkit-text-stroke:1.1px #0b1756;">DIMENSIONS</div>
<div class="t" id="h2c" style="left:555.00px;top:935.00px;font-size:36.5px;font-weight:normal;letter-spacing:0.000px;color:#0b1756;font-family:'Liberation Sans',sans-serif;transform:scaleX(1.2500);">(in)</div>
<div class="t" id="h3a" style="left:926.94px;top:855.00px;font-size:41.5px;font-weight:bold;letter-spacing:2.841px;color:#0b1756;font-family:'Liberation Sans',sans-serif;transform:scaleX(1.0186);-webkit-text-stroke:1.1px #0b1756;">MAX.</div>
<div class="t" id="h3b" style="left:905.75px;top:892.50px;font-size:41.5px;font-weight:bold;letter-spacing:2.661px;color:#0b1756;font-family:'Liberation Sans',sans-serif;transform:scaleX(0.9170);-webkit-text-stroke:1.1px #0b1756;">HEIGHT</div>
<div class="t" id="h3c" style="left:951.47px;top:935.00px;font-size:36.5px;font-weight:normal;letter-spacing:0.000px;color:#0b1756;font-family:'Liberation Sans',sans-serif;transform:scaleX(1.2646);">(in)</div>
<div class="t" id="h4a" style="left:1210.97px;top:855.00px;font-size:41.5px;font-weight:bold;letter-spacing:2.841px;color:#0b1756;font-family:'Liberation Sans',sans-serif;transform:scaleX(1.0092);-webkit-text-stroke:1.1px #0b1756;">MAX.</div>
<div class="t" id="h4b" style="left:1185.32px;top:892.50px;font-size:41.5px;font-weight:bold;letter-spacing:2.870px;color:#0b1756;font-family:'Liberation Sans',sans-serif;transform:scaleX(0.8921);-webkit-text-stroke:1.1px #0b1756;">LENGTH</div>
<div class="t" id="h4c" style="left:1234.44px;top:935.00px;font-size:36.5px;font-weight:normal;letter-spacing:0.000px;color:#0b1756;font-family:'Liberation Sans',sans-serif;transform:scaleX(1.2812);">(in)</div>
<div class="t" id="r1a" style="left:208.60px;top:1028.50px;font-size:41px;font-weight:bold;letter-spacing:0.846px;color:#0b1756;font-family:'Liberation Sans',sans-serif;transform:scaleX(1.3000);-webkit-text-stroke:0.6px #0b1756;">M</div>
<div class="t" id="r1b" style="left:344.96px;top:1026.00px;font-size:41px;font-weight:bold;letter-spacing:0.000px;color:#0b1756;font-family:'Liberation Sans',sans-serif;transform:scaleX(1.0355);-webkit-text-stroke:0.6px #0b1756;">37 L x 25.25 W x 26.75 H</div>
<div class="t" id="r1c" style="left:959.40px;top:1029.50px;font-size:41px;font-weight:bold;letter-spacing:0.000px;color:#0b1756;font-family:'Liberation Sans',sans-serif;transform:scaleX(1.1047);-webkit-text-stroke:0.6px #0b1756;">23</div>
<div class="t" id="r1d" style="left:1242.86px;top:1029.50px;font-size:41px;font-weight:bold;letter-spacing:0.000px;color:#0b1756;font-family:'Liberation Sans',sans-serif;transform:scaleX(1.1395);-webkit-text-stroke:0.6px #0b1756;">33</div>
<div class="t" id="r2a" style="left:219.86px;top:1112.00px;font-size:41px;font-weight:bold;letter-spacing:0.000px;color:#0b1756;font-family:'Liberation Sans',sans-serif;transform:scaleX(0.8810);-webkit-text-stroke:0.6px #0b1756;">L</div>
<div class="t" id="r2b" style="left:372.45px;top:1108.50px;font-size:41px;font-weight:bold;letter-spacing:0.000px;color:#0b1756;font-family:'Liberation Sans',sans-serif;transform:scaleX(1.0478);-webkit-text-stroke:0.6px #0b1756;">43 L x 29 W x 30.75 H</div>
<div class="t" id="r2c" style="left:959.93px;top:1111.00px;font-size:41px;font-weight:bold;letter-spacing:0.000px;color:#0b1756;font-family:'Liberation Sans',sans-serif;transform:scaleX(1.0698);-webkit-text-stroke:0.6px #0b1756;">27</div>
<div class="t" id="r2d" style="left:1242.88px;top:1111.00px;font-size:41px;font-weight:bold;letter-spacing:0.000px;color:#0b1756;font-family:'Liberation Sans',sans-serif;transform:scaleX(1.1163);-webkit-text-stroke:0.6px #0b1756;">39</div>
<div class="t" id="r3a" style="left:206.52px;top:1193.50px;font-size:41px;font-weight:bold;letter-spacing:0.000px;color:#0b1756;font-family:'Liberation Sans',sans-serif;transform:scaleX(0.9800);-webkit-text-stroke:0.6px #0b1756;">XL</div>
<div class="t" id="r3b" style="left:353.95px;top:1189.50px;font-size:41px;font-weight:bold;letter-spacing:0.000px;color:#0b1756;font-family:'Liberation Sans',sans-serif;transform:scaleX(1.0520);-webkit-text-stroke:0.6px #0b1756;">49 L x 30.5 W x 32.75 H</div>
<div class="t" id="r3c" style="left:958.88px;top:1192.50px;font-size:41px;font-weight:bold;letter-spacing:0.000px;color:#0b1756;font-family:'Liberation Sans',sans-serif;transform:scaleX(1.1163);-webkit-text-stroke:0.6px #0b1756;">29</div>
<div class="t" id="r3d" style="left:1240.84px;top:1192.50px;font-size:41px;font-weight:bold;letter-spacing:0.000px;color:#0b1756;font-family:'Liberation Sans',sans-serif;transform:scaleX(1.1591);-webkit-text-stroke:0.6px #0b1756;">44</div>
<div class="t" id="r4a" style="left:193.03px;top:1274.50px;font-size:41px;font-weight:bold;letter-spacing:0.000px;color:#0b1756;font-family:'Liberation Sans',sans-serif;transform:scaleX(0.9744);-webkit-text-stroke:0.6px #0b1756;">XXL</div>
<div class="t" id="r4b" style="left:352.89px;top:1270.00px;font-size:41px;font-weight:bold;letter-spacing:0.000px;color:#0b1756;font-family:'Liberation Sans',sans-serif;transform:scaleX(1.0567);-webkit-text-stroke:0.6px #0b1756;">54 L x 36.5 W x 44.75 H</div>
<div class="t" id="r4c" style="left:955.77px;top:1274.00px;font-size:41px;font-weight:bold;letter-spacing:0.000px;color:#0b1756;font-family:'Liberation Sans',sans-serif;transform:scaleX(1.2326);-webkit-text-stroke:0.6px #0b1756;">40</div>
<div class="t" id="r4d" style="left:1240.57px;top:1274.00px;font-size:41px;font-weight:bold;letter-spacing:0.000px;color:#0b1756;font-family:'Liberation Sans',sans-serif;transform:scaleX(1.2143);-webkit-text-stroke:0.6px #0b1756;">50</div>
<div class="t" id="lg2" style="left:223.70px;top:132.70px;font-size:18.5px;font-weight:bold;letter-spacing:-1.000px;color:#ffffff;font-family:'Liberation Sans',sans-serif;transform:scaleX(0.9000);">by</div><svg width="1500" height="1500" viewBox="0 0 1500 1500" style="z-index:2">
<g font-family="Liberation Serif, serif" font-weight="bold" font-size="106" fill="#fff" stroke="#fff" stroke-width="2.6" stroke-linejoin="round">
<text transform="translate(85.92 118.3) scale(1.0829 1)" x="0" y="0">f</text>
<text transform="translate(125.06 118.3) scale(0.9476 1)" x="0" y="0">r</text>
<text transform="translate(174.43 118.3) scale(0.7846 1)" x="0" y="0">ı</text>
<text transform="translate(199.51 118.3) scale(1.0639 1)" x="0" y="0">s</text>
<text transform="translate(245.19 118.3) scale(1.1025 1)" x="0" y="0">c</text>
<text transform="translate(297.03 118.3) scale(1.1422 1)" x="0" y="0">o</text>
</g>
<circle cx="183.9" cy="55.9" r="8.1" fill="#fff"/>
<rect x="86.3" y="70.2" width="37.5" height="10.6" rx="4.5" fill="#fff"/>
<path d="M335 70.5C341 71.5 347 71 351.5 68.5C355.5 66 358.5 63.5 361 62.3C362.6 64 362.8 67.5 361.6 71C360 76 356.5 80.5 352.5 84C350 78 343 73 335 70.5Z" fill="#fff"/>
<path d="M368.3 69.7C367.5 74.5 364 79 359.7 81" stroke="#fff" stroke-width="1.4" fill="none" stroke-linecap="round"/>
<path d="M372.3 77.7C370 82 365.5 85 360.3 85.4" stroke="#fff" stroke-width="1.4" fill="none" stroke-linecap="round"/>
<circle cx="353.2" cy="115.7" r="3.3" stroke="#fff" stroke-width="0.9" fill="none"/>
<circle cx="353.2" cy="115.7" r="1.1" fill="#fff"/>
</svg>
<div class="t" id="lg3" style="left:244px;top:126.5px;font-weight:bold;font-style:italic;font-size:34.5px;color:#fff;letter-spacing:-0.5px;-webkit-text-stroke:2px #fff;transform:rotate(-4deg) skewX(6deg);">chewy</div>
<div style="position:absolute;left:0;top:0;width:1500px;height:2.7px;background:#aab3c8;z-index:5"></div>
<div style="position:absolute;left:0;top:2.7px;width:1.9px;height:200px;background:#cbd6f8;z-index:5"></div>
<div style="position:absolute;left:0;top:202.6px;width:1.6px;height:572px;background:#c9c9cb;z-index:5"></div>
<div style="position:absolute;left:0;top:775px;width:1.4px;height:725px;background:#cdd1d6;z-index:5"></div>
<div style="position:absolute;left:1498.2px;top:2.7px;width:1.8px;height:200px;background:#c6d1f7;z-index:5"></div>
<div style="position:absolute;left:1498.2px;top:202.6px;width:1.8px;height:572px;background:#e6e6e5;z-index:5"></div>
<div style="position:absolute;left:1498.2px;top:775px;width:1.8px;height:725px;background:#dadddd;z-index:5"></div>
<div style="position:absolute;left:0;top:1497.4px;width:1500px;height:2.6px;background:linear-gradient(#e4e7ed,#d9dce4);z-index:5"></div>
</body></html>
